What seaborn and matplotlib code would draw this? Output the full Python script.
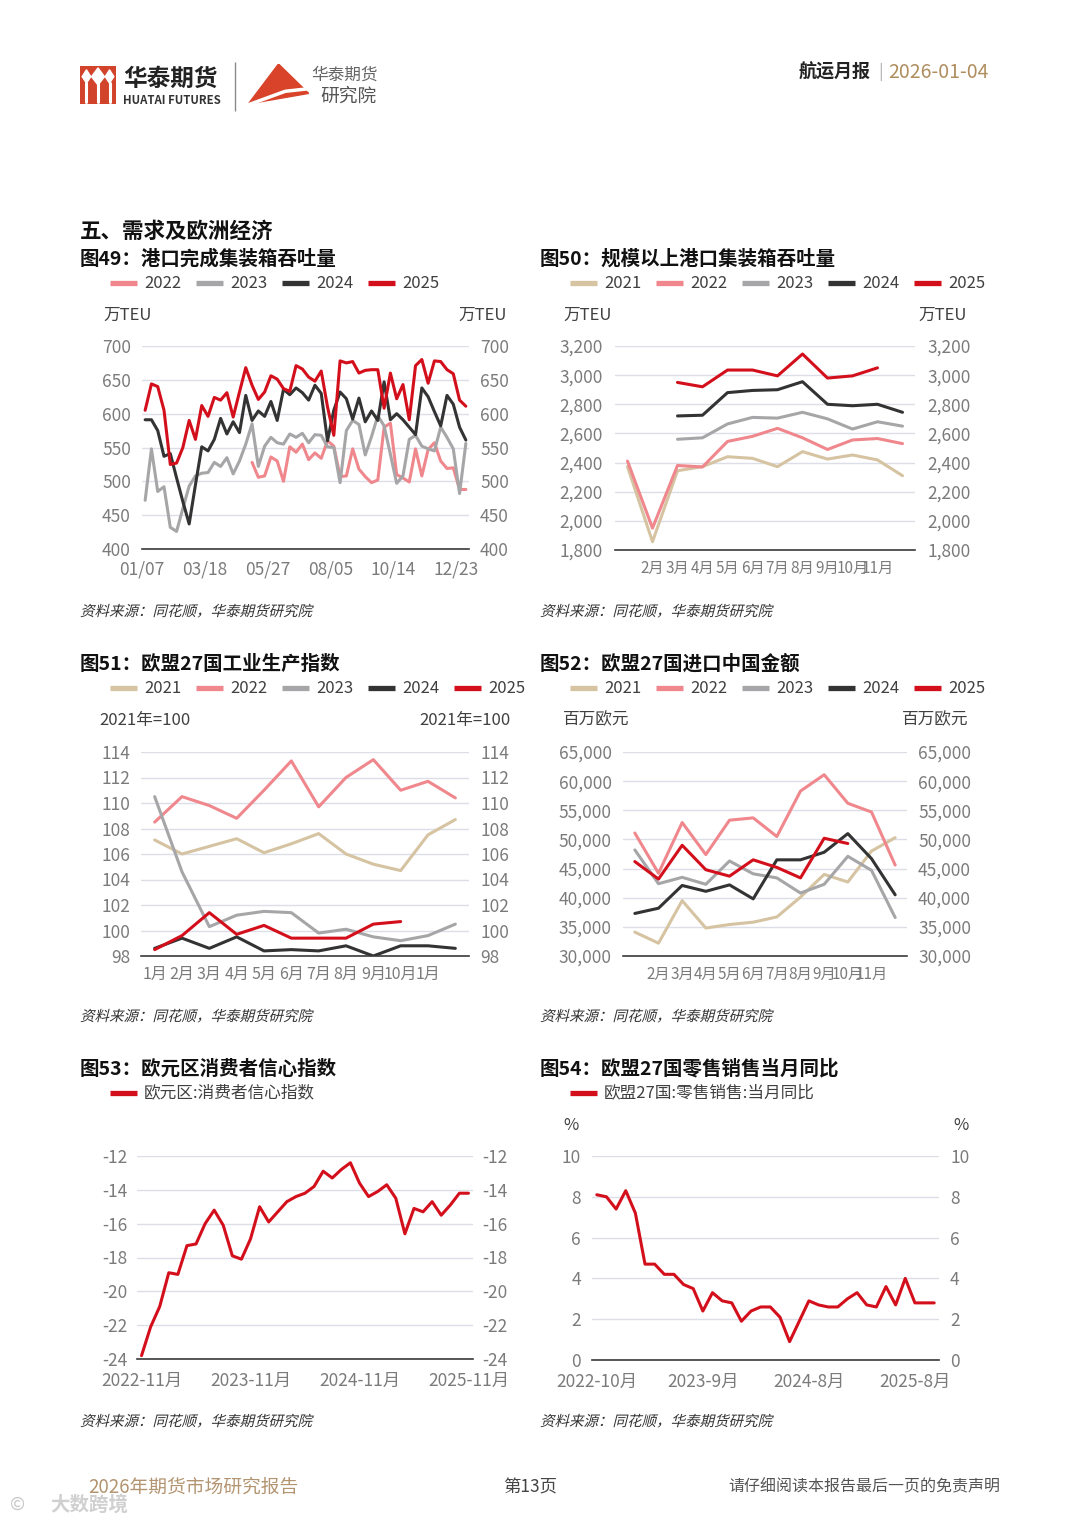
import numpy as np
import pandas as pd
import matplotlib
matplotlib.use("Agg")
import matplotlib.pyplot as plt
import seaborn as sns
from matplotlib.lines import Line2D
from matplotlib.patches import Polygon, Rectangle, PathPatch
from matplotlib.textpath import TextPath
from matplotlib.font_manager import FontProperties
from matplotlib.transforms import Affine2D

sns.set_theme(style="white")
plt.rcParams['font.family'] = ['Noto Sans CJK SC', 'DejaVu Sans']
plt.rcParams['axes.unicode_minus'] = False

nan = np.nan

# ---- colours
C21, C22, C23, C24, C25 = '#d5c3a2', '#ef878d', '#a6a6a8', '#333333', '#d40f1c'

# ---- 图49 港口完成集装箱吞吐量 (weekly, 万TEU)
week_labels = ['01/07', '03/18', '05/27', '08/05', '10/14', '12/23']
port_2022 = [nan] * 17 + [528, 506, 508, 536, 530, 500, 551, 543, 555, 532,
                          542, 534, 560, 552, 507, 508, 548, 518, 507, 498,
                          502, 580, 586, 510, 505, 499, 548, 508, 547, 557,
                          530, 519, 520, 488, 488]
port_2023 = [472, 548, 485, 492, 432, 426, 460, 493, 508, 512,
             513, 528, 522, 535, 511, 530, 555, 585, 522, 552,
             565, 557, 555, 570, 565, 571, 557, 569, 568, 551,
             550, 498, 575, 590, 584, 539, 566, 597, 582, 540,
             497, 508, 562, 568, 552, 548, 545, 580, 565, 548,
             482, 556]
port_2024 = [591, 591, 575, 537, 541, 505, 470, 437, 495, 551,
             545, 562, 593, 570, 588, 572, 627, 590, 604, 596,
             618, 590, 636, 628, 638, 631, 620, 642, 630, 560,
             605, 632, 622, 592, 623, 588, 604, 590, 647, 591,
             600, 591, 580, 569, 638, 625, 603, 582, 627, 614,
             580, 561]
port_2025 = [605, 644, 640, 605, 525, 527, 550, 590, 562, 612,
             596, 624, 620, 631, 595, 632, 668, 642, 621, 632,
             656, 651, 637, 633, 671, 666, 654, 648, 663, 610,
             568, 678, 675, 677, 660, 664, 665, 665, 608, 660,
             622, 643, 591, 671, 680, 645, 678, 677, 665, 659,
             620, 611]

# ---- 图50 规模以上港口集装箱吞吐量 (monthly, 万TEU)
months = ['1月', '2月', '3月', '4月', '5月', '6月', '7月', '8月', '9月', '10月', '11月', '12月']
tp_2021 = [2372, 1857, 2344, 2372, 2440, 2429, 2372, 2475, 2424, 2452, 2418, 2310]
tp_2022 = [2410, 1950, 2380, 2370, 2545, 2580, 2635, 2570, 2490, 2555, 2565, 2530]
tp_2023 = [nan, nan, 2560, 2570, 2665, 2710, 2705, 2745, 2700, 2630, 2680, 2650]
tp_2024 = [nan, nan, 2720, 2725, 2880, 2895, 2900, 2955, 2800, 2790, 2800, 2745]
tp_2025 = [nan, nan, 2950, 2920, 3035, 3035, 2995, 3145, 2980, 2995, 3050, nan]

# ---- 图51 欧盟27国工业生产指数 (2021年=100)
ip_2021 = [107.1, 106.0, 106.6, 107.2, 106.1, 106.8, 107.6, 106.0, 105.2, 104.7, 107.5, 108.7]
ip_2022 = [108.5, 110.5, 109.8, 108.8, 111.0, 113.3, 109.7, 112.0, 113.4, 111.0, 111.7, 110.4]
ip_2023 = [110.5, 104.6, 100.3, 101.2, 101.5, 101.4, 99.8, 100.1, 99.5, 99.2, 99.6, 100.5]
ip_2024 = [98.6, 99.4, 98.6, 99.5, 98.4, 98.5, 98.4, 98.8, 98.0, 98.8, 98.8, 98.6]
ip_2025 = [98.5, 99.6, 101.4, 99.7, 100.4, 99.4, 99.4, 99.4, 100.5, 100.7, nan, nan]

# ---- 图52 欧盟27国进口中国金额 (百万欧元)
im_2021 = [34100, 32200, 39500, 34800, 35400, 35800, 36700, 40100, 44000, 42700, 48000, 50300]
im_2022 = [51100, 44200, 52900, 47400, 53300, 53700, 50500, 58300, 61100, 56200, 54700, 45600]
im_2023 = [48200, 42400, 43500, 42300, 46300, 44100, 43400, 40800, 42300, 47100, 44700, 36600]
im_2024 = [37300, 38200, 42100, 41100, 42200, 39800, 46500, 46500, 47800, 51000, 46700, 40500]
im_2025 = [46200, 43200, 49000, 44800, 43700, 46500, 45200, 43400, 50200, 49300, nan, nan]

# ---- 图53 欧元区消费者信心指数 (2022-11 .. 2025-11)
conf_labels = ['2022-11月', '2023-11月', '2024-11月', '2025-11月']
conf = [-23.8, -22.1, -20.9, -18.9, -19.0, -17.3, -17.2, -16.0, -15.2, -16.1,
        -17.9, -18.1, -16.9, -15.0, -15.9, -15.3, -14.7, -14.4, -14.2, -13.8,
        -12.9, -13.3, -12.8, -12.4, -13.6, -14.4, -14.1, -13.7, -14.5, -16.6,
        -15.1, -15.3, -14.7, -15.5, -14.9, -14.2, -14.2]

# ---- 图54 欧盟27国零售销售当月同比 (%)
retail_labels = ['2022-10月', '2023-9月', '2024-8月', '2025-8月']
retail = [8.1, 8.0, 7.4, 8.3, 7.2, 4.7, 4.7, 4.2, 4.2, 3.7,
          3.5, 2.4, 3.3, 2.9, 2.8, 1.9, 2.4, 2.6, 2.6, 2.1,
          0.9, 1.9, 2.9, 2.7, 2.6, 2.6, 3.0, 3.3, 2.7, 2.6,
          3.6, 2.7, 4.0, 2.8, 2.8, 2.8]

W, H = 1080, 1527
fig = plt.figure(figsize=(W / 100, H / 100), dpi=100)
fig.patch.set_facecolor('white')

# full page overlay in pixel units, used for slanted (italic-like) source notes
page = fig.add_axes([0, 0, 1, 1], zorder=-1)
page.set_xlim(0, W)
page.set_ylim(0, H)
page.axis('off')


def box(x0, y0, x1, y1):
    return fig.add_axes([x0 / W, 1 - y1 / H, (x1 - x0) / W, (y1 - y0) / H])


def ftext(x, y, s, **kw):
    kw.setdefault('va', 'center')
    fig.text(x / W, 1 - y / H, s, **kw)


def fline(x0, x1, y0, y1, color, lw):
    fig.add_artist(Line2D([x0 / W, x1 / W], [1 - y0 / H, 1 - y1 / H],
                          color=color, lw=lw, solid_capstyle='butt'))


def source(x, y, s='资料来源：同花顺，华泰期货研究院'):
    tp = TextPath((0, 0), s, size=14.5, prop=FontProperties(family='Noto Sans CJK SC'))
    tr = Affine2D().skew_deg(14, 0).translate(x, H - y - 5) + page.transData
    page.add_patch(PathPatch(tp, transform=tr, color='#333333', lw=0))


def legend(x, y, names, colors):
    for i, (n, c) in enumerate(zip(names, colors)):
        xx = x + i * 86
        fline(xx, xx + 27, y, y, c, 3.8)
        ftext(xx + 34, y, n, fontsize=12, color='#404040')


def style(ax, yticks, fmt=str, pad=8, xsize=12):
    ax.set_ylim(yticks[0], yticks[-1])
    ax.set_yticks(yticks)
    ax.set_yticklabels([fmt(v) for v in yticks])
    ax.yaxis.grid(True, color='#dcdfe8', lw=1)
    ax.xaxis.grid(False)
    for s in ['top', 'left', 'right']:
        ax.spines[s].set_visible(False)
    ax.spines['bottom'].set_color('#3a3a3a')
    ax.spines['bottom'].set_linewidth(1.2)
    ax.tick_params(axis='y', left=False, right=False, length=0, labelleft=True,
                   labelright=True, labelsize=12.5, labelcolor='#7b7b7b', pad=pad)
    ax.tick_params(axis='x', which='major', direction='in', length=6, width=1.2,
                   color='#3a3a3a', labelsize=12.5, labelcolor='#7b7b7b', pad=5)
    ax.tick_params(axis='x', which='minor', length=0, labelsize=xsize,
                   labelcolor='#7b7b7b', pad=7)
    ax.set_xlabel('')
    ax.set_ylabel('')
    ax.set_axisbelow(True)
    ax.set_facecolor('none')


def multi(ax, x, series, palette, lw=2.2):
    df = pd.DataFrame({
        'x': np.tile(x, len(series)),
        'v': np.concatenate([np.asarray(s, dtype=float) for s in series.values()]),
        'year': np.repeat(list(series.keys()), len(x)),
    })
    sns.lineplot(data=df, x='x', y='v', hue='year', palette=palette, lw=lw,
                 legend=False, errorbar=None, estimator=None, ax=ax)


def cat_axis(ax, n, bounds, labels, label_idx):
    ax.set_xlim(-0.5, n - 0.5)
    ax.set_xticks(bounds)
    ax.set_xticklabels([])
    ax.set_xticks(label_idx, minor=True)
    ax.set_xticklabels(labels, minor=True)


def thousands(v):
    return f'{v:,}'


# ================= header
ax_logo = box(80, 66, 116, 104)
ax_logo.add_patch(Rectangle((0, 0), 1, 1, color='#d2432b'))
for xs in [0.18, 0.5, 0.82]:
    ax_logo.plot([xs, xs], [0.05, 0.55], color='white', lw=2.2)
ax_logo.add_patch(Polygon([(0.5, 0.95), (0.68, 0.72), (0.5, 0.5), (0.32, 0.72)], color='white'))
ax_logo.add_patch(Polygon([(0.18, 0.9), (0.3, 0.72), (0.18, 0.55), (0.06, 0.72)], color='white'))
ax_logo.add_patch(Polygon([(0.82, 0.9), (0.94, 0.72), (0.82, 0.55), (0.7, 0.72)], color='white'))
ax_logo.set_xlim(0, 1)
ax_logo.set_ylim(0, 1)
ax_logo.axis('off')
ftext(123, 79, '华泰期货', fontsize=17, fontweight='bold', color='#222222')
ftext(123, 100, 'HUATAI FUTURES', fontsize=8.2, fontweight='bold', color='#333333')
fline(235, 235, 62, 111, '#8a8a8a', 1)
ax_tri = box(245, 64, 312, 106)
ax_tri.add_patch(Polygon([(0.05, 0.05), (0.5, 1.0), (0.95, 0.3)], color='#d9432a'))
ax_tri.plot([0.0, 0.6, 1.0], [0.0, 0.35, 0.42], color='white', lw=2.5)
ax_tri.set_xlim(0, 1)
ax_tri.set_ylim(0, 1)
ax_tri.axis('off')
ftext(311, 75, '华泰期货', fontsize=12, color='#666666')
ftext(320, 96, '研究院', fontsize=13.5, color='#555555')

ftext(799, 72, '航运月报', fontsize=13, fontweight='bold', color='#222222')
ftext(878, 72, '|', fontsize=12, color='#b0b0b0')
ftext(888, 72, '2026-01-04', fontsize=14, color='#b08d5e')

# ================= section title
ftext(80, 231, '五、需求及欧洲经济', fontsize=15.5, fontweight='bold', color='#111111')

# ================= 图49
ftext(80, 259, '图49：港口完成集装箱吞吐量', fontsize=14, fontweight='bold', color='#111111')
legend(110, 283, ['2022', '2023', '2024', '2025'], [C22, C23, C24, C25])
ftext(103, 315, '万TEU', fontsize=12, color='#404040')
ftext(507, 315, '万TEU', fontsize=12, color='#404040', ha='right')
ax49 = box(142, 346, 469, 549)
wk = np.arange(len(port_2023))
multi(ax49, wk, {'2022': port_2022, '2023': port_2023, '2024': port_2024, '2025': port_2025},
      {'2022': C22, '2023': C23, '2024': C24, '2025': C25})
style(ax49, [400, 450, 500, 550, 600, 650, 700], pad=8)
ax49.set_xlim(-0.5, len(wk) - 0.5)
ax49.set_xticks(list(np.arange(-0.5, len(wk), 10)) + [len(wk) - 0.5])
ax49.set_xticklabels(week_labels + [''])
ax49.tick_params(axis='x', pad=8)
source(80, 611)

# ================= 图50
ftext(540, 259, '图50：规模以上港口集装箱吞吐量', fontsize=14, fontweight='bold', color='#111111')
legend(570, 283, ['2021', '2022', '2023', '2024', '2025'], [C21, C22, C23, C24, C25])
ftext(563, 315, '万TEU', fontsize=12, color='#404040')
ftext(967, 315, '万TEU', fontsize=12, color='#404040', ha='right')
ax50 = box(615, 346, 915, 550)
mx = np.arange(12)
multi(ax50, mx, {'2021': tp_2021, '2022': tp_2022, '2023': tp_2023, '2024': tp_2024, '2025': tp_2025},
      {'2021': C21, '2022': C22, '2023': C23, '2024': C24, '2025': C25})
style(ax50, list(range(1800, 3201, 200)), thousands, pad=9, xsize=11)
cat_axis(ax50, 12, np.arange(0.5, 11, 1), months[1:11], mx[1:11])
source(540, 611)

# ================= 图51
ftext(80, 664, '图51：欧盟27国工业生产指数', fontsize=14, fontweight='bold', color='#111111')
legend(110, 688, ['2021', '2022', '2023', '2024', '2025'], [C21, C22, C23, C24, C25])
ftext(99, 720, '2021年=100', fontsize=12, color='#404040')
ftext(511, 720, '2021年=100', fontsize=12, color='#404040', ha='right')
ax51 = box(141, 752, 469, 956)
multi(ax51, mx, {'2021': ip_2021, '2022': ip_2022, '2023': ip_2023, '2024': ip_2024, '2025': ip_2025},
      {'2021': C21, '2022': C22, '2023': C23, '2024': C24, '2025': C25})
style(ax51, list(range(98, 115, 2)), pad=8, xsize=11.5)
cat_axis(ax51, 12, np.arange(-0.5, 12, 1), months[:10] + ['1月'], mx[:11])
source(80, 1016)

# ================= 图52
ftext(540, 664, '图52：欧盟27国进口中国金额', fontsize=14, fontweight='bold', color='#111111')
legend(570, 688, ['2021', '2022', '2023', '2024', '2025'], [C21, C22, C23, C24, C25])
ftext(563, 720, '百万欧元', fontsize=12, color='#404040')
ftext(968, 720, '百万欧元', fontsize=12, color='#404040', ha='right')
ax52 = box(623, 752, 907, 956)
multi(ax52, mx, {'2021': im_2021, '2022': im_2022, '2023': im_2023, '2024': im_2024, '2025': im_2025},
      {'2021': C21, '2022': C22, '2023': C23, '2024': C24, '2025': C25})
style(ax52, list(range(30000, 65001, 5000)), thousands, pad=8, xsize=11)
cat_axis(ax52, 12, np.arange(0.5, 11, 1), months[1:11], mx[1:11])
source(540, 1016)

# ================= 图53
ftext(80, 1069, '图53：欧元区消费者信心指数', fontsize=14, fontweight='bold', color='#111111')
legend(110, 1093, ['欧元区:消费者信心指数'], [C25])
ax53 = box(137, 1156, 473, 1359)
cx = np.arange(len(conf))
sns.lineplot(x=cx, y=conf, color=C25, lw=2.2, ax=ax53)
style(ax53, list(range(-24, -11, 2)), pad=7)
ax53.set_xlim(-0.5, len(conf) - 0.5)
ax53.set_xticks([-0.5, 11.5, 23.5, 35.5, len(conf) - 0.5])
ax53.set_xticklabels([])
ax53.set_xticks([0, 12, 24, 36], minor=True)
ax53.set_xticklabels(conf_labels, minor=True)
ax53.tick_params(axis='x', which='minor', labelsize=12.5, pad=9)
source(80, 1421)

# ================= 图54
ftext(540, 1069, '图54：欧盟27国零售销售当月同比', fontsize=14, fontweight='bold', color='#111111')
legend(570, 1093, ['欧盟27国:零售销售:当月同比'], [C25])
ftext(563, 1125, '%', fontsize=12, color='#404040')
ftext(953, 1125, '%', fontsize=12, color='#404040')
ax54 = box(592, 1156, 939, 1360)
rx = np.arange(len(retail))
sns.lineplot(x=rx, y=retail, color=C25, lw=2.2, ax=ax54)
style(ax54, [0, 2, 4, 6, 8, 10], pad=8)
ax54.set_xlim(-0.5, len(retail) - 0.5)
ax54.set_xticks([-0.5, 10.5, 21.5, 32.5, len(retail) - 0.5])
ax54.set_xticklabels([])
ax54.set_xticks([0, 11, 22, 33], minor=True)
ax54.set_xticklabels(retail_labels, minor=True)
ax54.tick_params(axis='x', which='minor', labelsize=12.5, pad=9)
source(540, 1421)

# ================= footer
ftext(88, 1487, '2026年期货市场研究报告', fontsize=13.5, color='#b39470')
ftext(503, 1487, '第13页', fontsize=12.5, color='#444444')
ftext(1000, 1487, '请仔细阅读本报告最后一页的免责声明', fontsize=11.5, color='#555555', ha='right')
ftext(10, 1505, '©', fontsize=13, color='#c8c8c8')
ftext(50, 1505, '大数跨境', fontsize=14, fontweight='bold', color='#d0d0d0')

fig.savefig('out.png', dpi=100, facecolor='white')
